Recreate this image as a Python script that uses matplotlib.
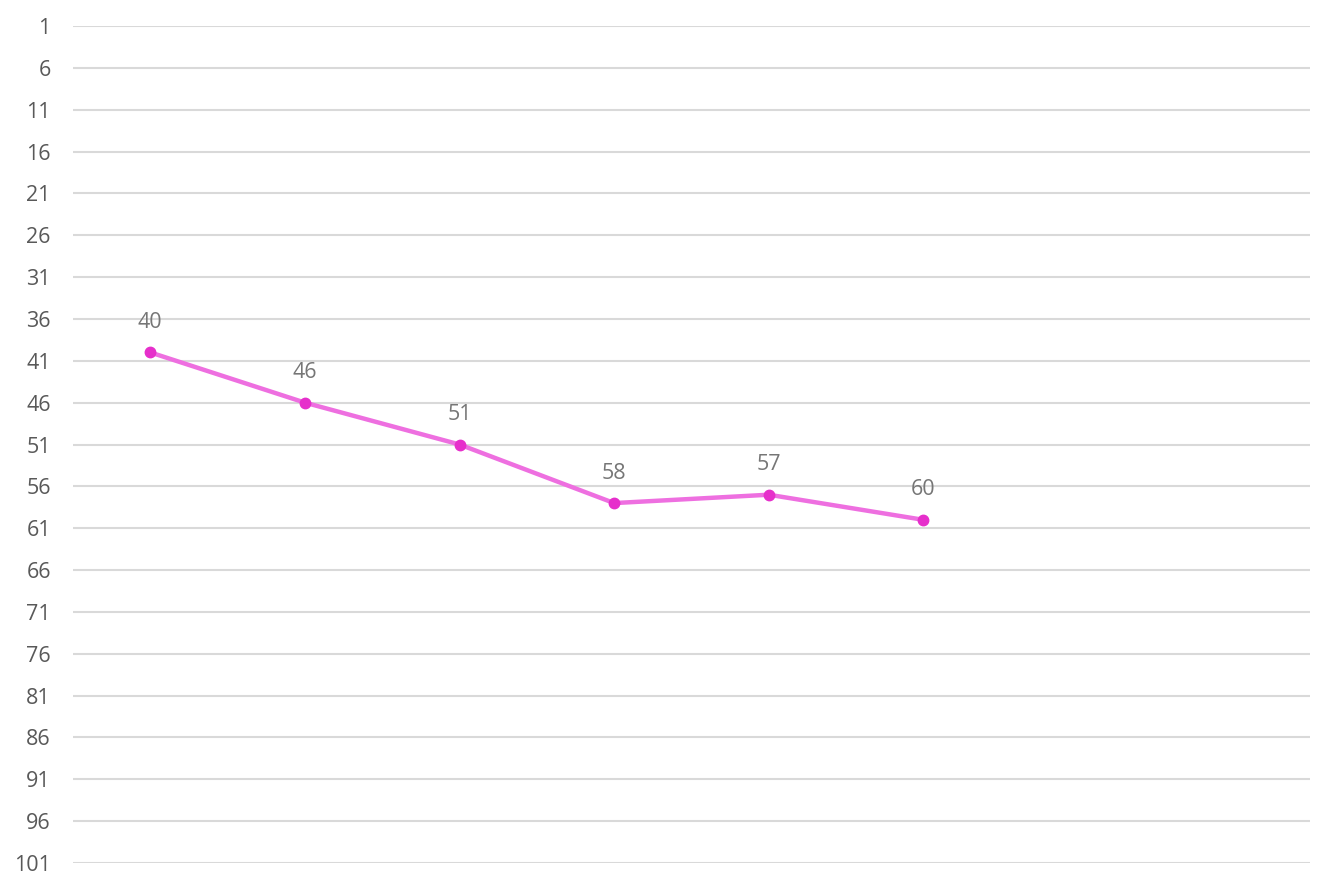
import matplotlib
matplotlib.use("Agg")
import matplotlib.pyplot as plt
import numpy as np

categories = ["1", "2", "3", "4", "5", "6", "7", "8"]
values = [40, 46, 51, 58, 57, 60]
yticks = list(range(1, 102, 5))

plt.rcParams['font.family'] = ['Open Sans', 'DejaVu Sans']

fig = plt.figure(figsize=(13.34, 8.89), dpi=100)
ax = fig.add_axes([73/1334, 1 - 863/889, (1310-73)/1334, (863-26)/889])

x = np.arange(len(values))
ax.plot(x, values, color="#EE6FE0", lw=3.2, zorder=3, solid_capstyle='round')
ax.plot(x, values, 'o', color="#E62FCB", ms=7.5, zorder=4)
for xi, v in zip(x, values):
    ax.annotate(str(v), (xi, v), xytext=(0, 14), textcoords='offset points',
                ha='center', va='bottom', fontsize=15.5, color="#767676")

ax.set_xlim(-0.5, len(categories) - 0.5)
ax.set_ylim(101, 1)
ax.set_yticks(yticks)
ax.set_yticklabels([str(t) for t in yticks])
ax.set_xticks([])
ax.grid(axis='y', color="#D9D9D9", lw=1.5)
ax.set_axisbelow(True)
for s in ax.spines.values():
    s.set_visible(False)
ax.tick_params(axis='y', length=0, pad=16, labelsize=15.5, labelcolor="#595959")

fig.savefig("out.png", dpi=100)
